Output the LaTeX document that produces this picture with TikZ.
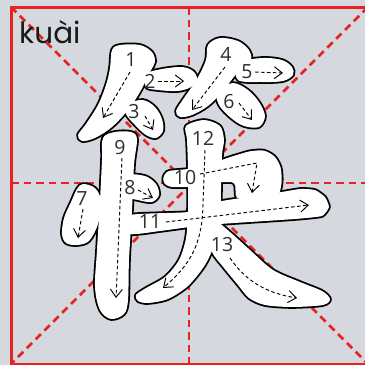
\documentclass[tikz,border=0pt]{standalone}
\usepackage{fontspec}
\setmainfont{Open Sans}
\newfontfamily\pyfont{Poppins}
\usetikzlibrary{arrows.meta}
\definecolor{bgc}{RGB}{213,216,222}
\definecolor{gridred}{RGB}{230,34,34}
\definecolor{numgrey}{RGB}{45,45,45}
\tikzset{
  outlinepass/.style={draw=black, line width=3.6pt, line join=round},
  fillpass/.style={fill=white},
  guide/.style={draw=black, line width=0.95pt, dash pattern=on 3.5pt off 2.5pt,
    -{Straight Barb[length=8pt,width=12pt,line width=0.95pt]}},
  num/.style={text=numgrey, font=\fontsize{19.5}{19.5}\selectfont, inner sep=0pt},
  gridline/.style={draw=gridred, line width=2.7pt, dash pattern=on 7.5pt off 5pt},
}
\newcommand\hanzistrokes[1]{%
  % 1
  \path[#1] plot[smooth cycle, tension=0.55] coordinates {(112,50) (120,45) (140,45) (152,52) (155,62) (150,72) (140,92) (128,110) (112,127) (95,138) (82,141) (78,135) (86,124) (98,105) (106,85) (110,68)};
  % 2
  \path[#1] plot[smooth cycle, tension=0.55] coordinates {(146,74) (162,69) (182,67) (193,71) (197,79) (191,87) (178,91) (158,90) (146,87)};
  % 3
  \path[#1] plot[smooth cycle, tension=0.55] coordinates {(127,104) (143,100) (155,107) (162,119) (163,131) (156,138) (146,135) (135,125) (126,114)};
  % 4
  \path[#1] plot[smooth cycle, tension=0.55] coordinates {(208,45) (220,38) (238,41) (249,50) (251,59) (243,66) (233,78) (222,92) (208,106) (192,115) (180,117) (176,111) (184,98) (197,79) (206,60)};
  % 5
  \path[#1] plot[smooth cycle, tension=0.55] coordinates {(238,63) (262,58) (282,60) (292,67) (293,75) (283,81) (262,82) (238,80)};
  % 6
  \path[#1] plot[smooth cycle, tension=0.55] coordinates {(217,91) (233,83) (248,90) (259,102) (265,116) (259,127) (244,126) (231,118) (219,105)};
  % 7
  \path[#1] plot[smooth cycle, tension=0.55] coordinates {(83,184) (95,188) (101,201) (98,224) (89,241) (77,245) (66,243) (62,234) (64,218) (71,202) (77,189)};
  % 8
  \path[#1] plot[smooth cycle, tension=0.55] coordinates {(128,176) (145,176) (156,184) (159,195) (152,202) (138,200) (128,196)};
  % 9
  \path[#1] plot[smooth cycle, tension=0.55] coordinates {(103,138) (115,132) (131,132) (137,139) (134,165) (132,210) (129,260) (128,300) (124,314) (111,319) (100,310) (95,287) (97,250) (100,200) (102,160)};
  % 10
  \path[#1, rounded corners=4pt] (162,181) -- (166,171) -- (200,168) -- (230,157) -- (250,151) -- (264,150) -- (275,156) -- (281,167) -- (282,182) -- (279,196) -- (250,198) -- (236,199) -- (235,182) -- (210,182) -- (190,187) -- (168,187) -- cycle;
  % 11
  \path[#1] plot[smooth cycle, tension=0.3] coordinates {(130,215) (188,212) (222,201) (270,194) (300,189) (315,190) (325,197) (329,207) (322,216) (295,219) (250,222) (220,224) (190,227) (160,231) (130,234)};
  % 12
  \path[#1] plot[smooth cycle, tension=0.5] coordinates {(186,126) (204,120) (220,126) (224,140) (222,155) (221,190) (220,222) (215,243) (205,265) (188,286) (168,299) (148,303) (138,301) (136,295) (146,288) (165,277) (179,260) (186,238) (188,210) (188,170) (187,140)};
  % 13
  \path[#1] plot[smooth cycle, tension=0.5] coordinates {(214,220) (230,232) (250,250) (273,270) (300,282) (322,291) (330,299) (323,305) (292,307) (265,305) (249,298) (238,285) (224,268) (212,252) (210,235)};
}
\begin{document}
\begin{tikzpicture}[x=1pt,y=-1pt]
  \useasboundingbox (0,0) rectangle (365,365);
  \clip (0,0) rectangle (365,365);
  \fill[bgc] (0,0) rectangle (365,365);
  % grid
  \coordinate (tl) at (11,7);
  \coordinate (tr) at (368,7);
  \coordinate (bl) at (11,364);
  \coordinate (br) at (368,364);
  \coordinate (tm) at (189,7);
  \coordinate (bm) at (189,364);
  \coordinate (lm) at (11,183);
  \coordinate (rm) at (368,183);
  \path[gridline] (tl) -- (br);
  \path[gridline] (tr) -- (bl);
  \path[gridline] (tm) -- (bm);
  \path[gridline] (lm) -- (rm);
  \draw[gridred, line width=3pt] (tl) rectangle (br);
  % strokes
  \hanzistrokes{outlinepass}
  \hanzistrokes{fillpass}
  % guide arrows
  \coordinate (a1s) at (130,72);  \coordinate (a1e) at (103,118);
  \coordinate (a2s) at (158,81);  \coordinate (a2e) at (184,81);
  \coordinate (a3s) at (145,116); \coordinate (a3e) at (153,130);
  \coordinate (a4s) at (225,67);  \coordinate (a4e) at (192,110);
  \coordinate (a5s) at (255,72);  \coordinate (a5e) at (283,73);
  \coordinate (a6s) at (239,103); \coordinate (a6e) at (252,120);
  \coordinate (a7s) at (83,209);  \coordinate (a7e) at (78,238);
  \coordinate (a8s) at (138,190); \coordinate (a8e) at (153,198);
  \coordinate (a9s) at (122,158); \coordinate (a9e) at (116,298);
  \coordinate (a10s) at (200,174); \coordinate (a10m) at (257,163); \coordinate (a10e) at (252,193);
  \coordinate (a11s) at (166,222); \coordinate (a11e) at (309,205);
  \coordinate (a12s) at (205,150); \coordinate (a12m) at (203,205); \coordinate (a12e) at (163,288);
  \coordinate (a13s) at (230,258); \coordinate (a13e) at (297,298);
  \draw[guide] (a1s) -- (a1e);
  \draw[guide] (a2s) -- (a2e);
  \draw[guide] (a3s) -- (a3e);
  \draw[guide] (a4s) -- (a4e);
  \draw[guide] (a5s) -- (a5e);
  \draw[guide] (a6s) -- (a6e);
  \draw[guide] (a7s) -- (a7e);
  \draw[guide] (a8s) -- (a8e);
  \draw[guide] (a9s) -- (a9e);
  \draw[guide] (a10s) -- (a10m) -- (a10e);
  \draw[guide] (a11s) -- (a11e);
  \draw[guide] (a12s) -- (a12m) .. controls (202,245) and (190,265) .. (a12e);
  \draw[guide] (a13s) .. controls (245,280) and (265,293) .. (a13e);
  % numbers
  \node[num] (n1) at (131,60) {1};
  \node[num] (n2) at (150,81) {2};
  \node[num] (n3) at (134,112) {3};
  \node[num] (n4) at (226,54) {4};
  \node[num] (n5) at (247,72) {5};
  \node[num] (n6) at (229,102) {6};
  \node[num] (n7) at (82,199) {7};
  \node[num] (n8) at (130,188) {8};
  \node[num] (n9) at (120,148) {9};
  \node[num] (n10) at (185,178) {10};
  \node[num] (n11) at (150,222) {11};
  \node[num] (n12) at (203,138) {12};
  \node[num] (n13) at (222,245) {13};
  % pinyin
  \node[anchor=base west, inner sep=0pt, font=\pyfont\fontsize{29.5}{29.5}\selectfont, text=black!90] (py) at (19,43) {kuài};
\end{tikzpicture}
\end{document}
